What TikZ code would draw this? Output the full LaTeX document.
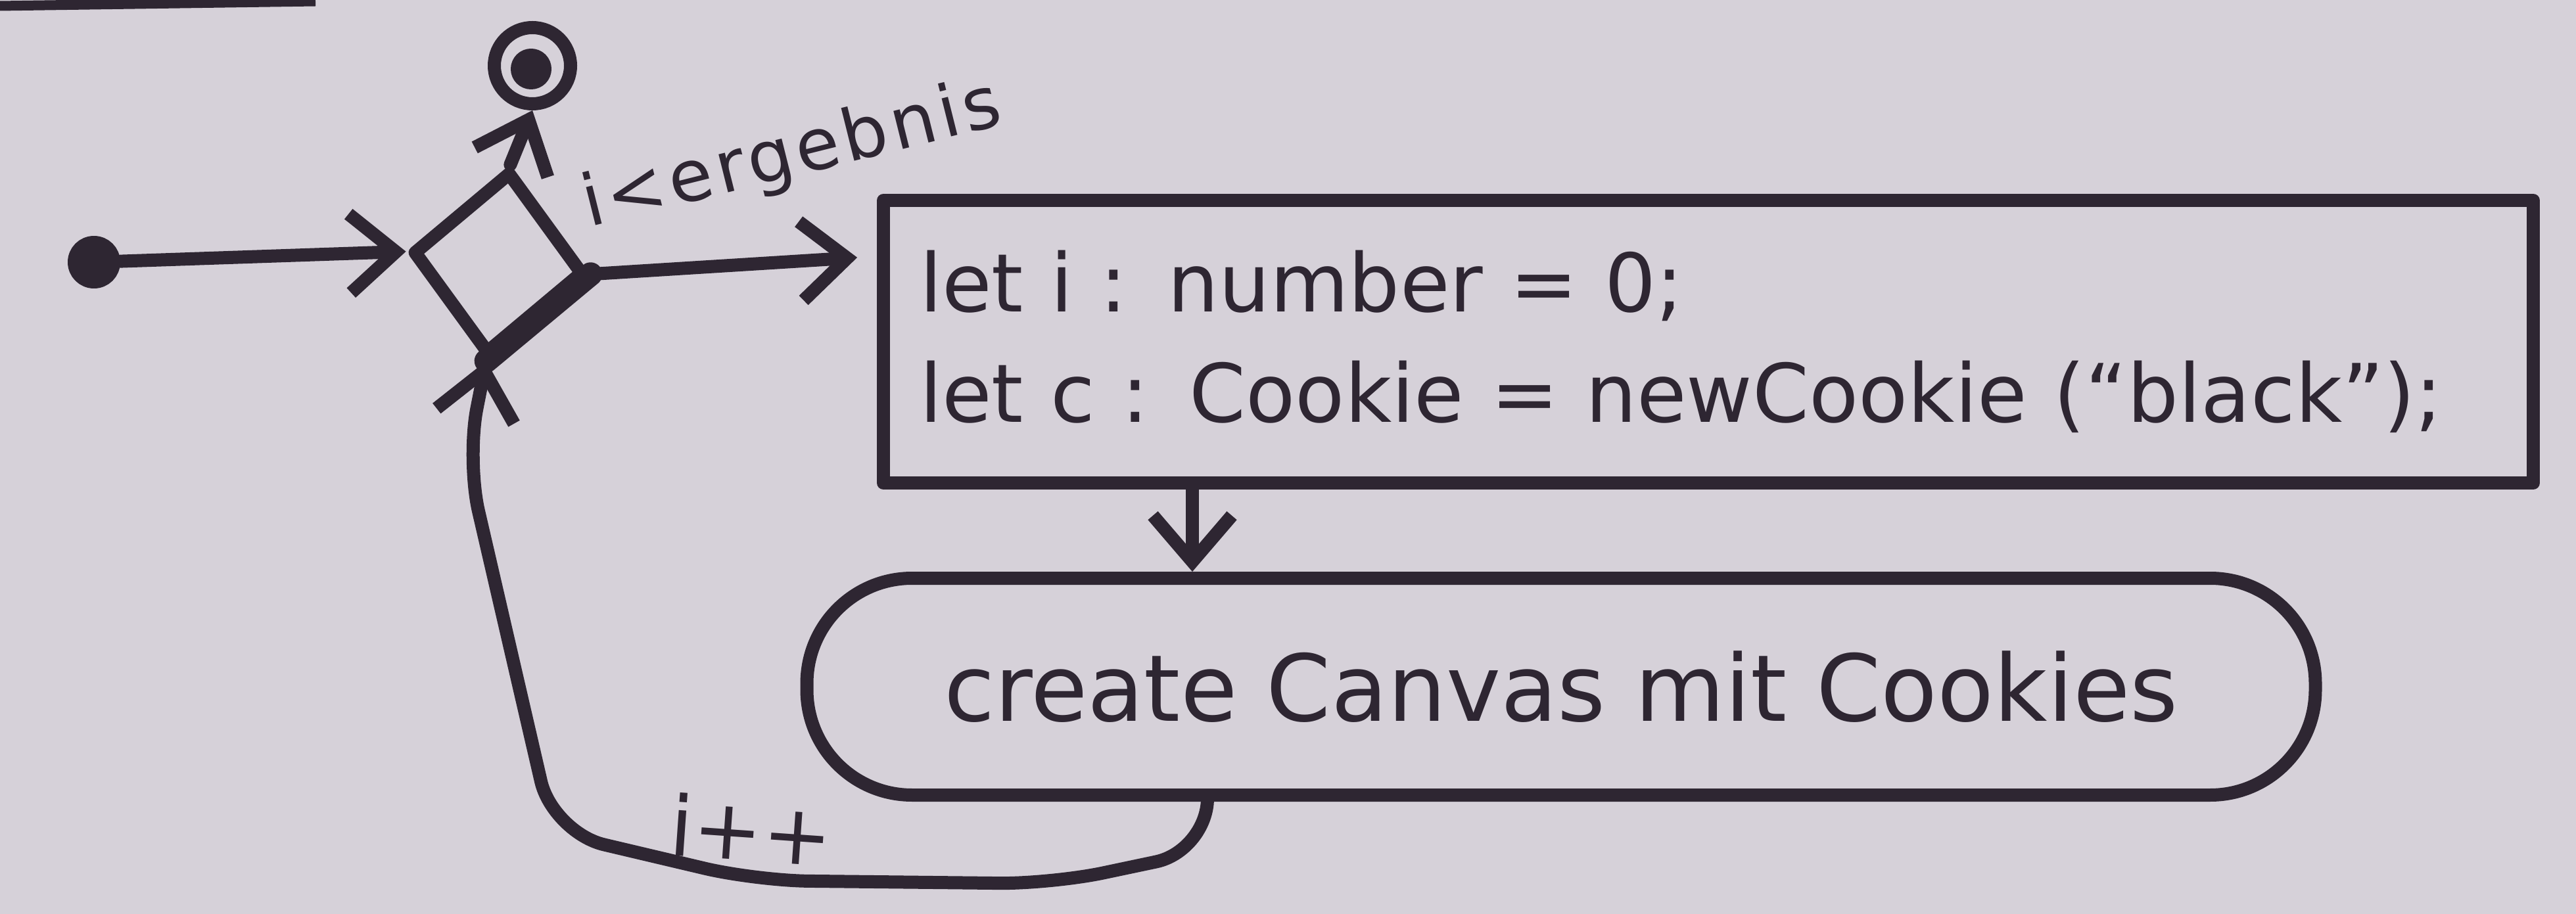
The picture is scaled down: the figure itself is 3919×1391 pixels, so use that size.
\documentclass[tikz,border=0pt]{standalone}
\usepackage{fontspec}
\setmainfont{DejaVu Sans}
\usetikzlibrary{shapes.geometric,arrows.meta}
\definecolor{paper}{RGB}{214,209,217}
\definecolor{ink}{RGB}{46,38,50}

\begin{document}
\begin{tikzpicture}[x=0.1mm, y=-0.1mm, line join=round]
    \tikzstyle{every node} = [draw=ink, line width=2mm, text=ink]
    \tikzstyle{flow} = [draw=ink, line width=2mm, line cap=round, -{Straight Barb[length=7mm,width=12mm]}]

    \fill[paper] (0,0) rectangle (3919,1391);
    \useasboundingbox (0,0) rectangle (3919,1391);
    \draw[ink, line width=1.5mm] (0,9) -- (480,2);

    \node (start) at (143,399) [circle, fill=ink, minimum size=6mm, inner sep=0] {};
    \node (merge) at (758,400) [diamond, rotate=-7, minimum width=26.3mm, minimum height=28.1mm, inner sep=0] {};
    \node (final) at (810,100) [circle, minimum size=11.6mm, inner sep=0] {};
    \node (finaldot) at (808,105) [circle, fill=ink, minimum size=4.2mm, inner sep=0] {};

    \node (init) at (2599,520) [rectangle, minimum height=43mm, text width=240mm, inner xsep=5.5mm, align=left, font=\fontsize{35}{48}\selectfont] {let i : number = 0;\\ let c : Cookie = newCookie (“black”);};
    \node (canvas) at (2375,1045) [rectangle, rounded corners=16mm, minimum width=229.5mm, minimum height=33mm, font=\fontsize{40}{48}\selectfont] {create Canvas mit Cookies};

    \node (cond) at (1205,238) [draw=none, rotate=14, font=\fontsize{31}{38}\selectfont\addfontfeature{LetterSpace=6}] {i<ergebnis};
    \node (incr) at (1143,1262) [draw=none, rotate=-4, font=\fontsize{36}{40}\selectfont] {i++};

    \coordinate (down) at (1814,0);
    \coordinate (back) at (1837,0);

    \draw [flow] (start) -- (merge.west);
    \draw [flow] (merge.north) -- (final.south);
    \draw [flow, shorten >=3mm] (merge.east) -- ([yshift=13mm]init.west);
    \draw [flow] (init.south -| down) -- (canvas.north -| down);
    \draw [flow, rounded corners=8mm] (canvas.south -| back) -- (1837,1295) -- (1600,1345) -- (1150,1340) -- (841,1267) -- (710,700) -- (merge.south);
    \draw [ink, line width=3.6mm, line cap=round] (merge.east) -- (merge.south);
\end{tikzpicture}
\end{document}
